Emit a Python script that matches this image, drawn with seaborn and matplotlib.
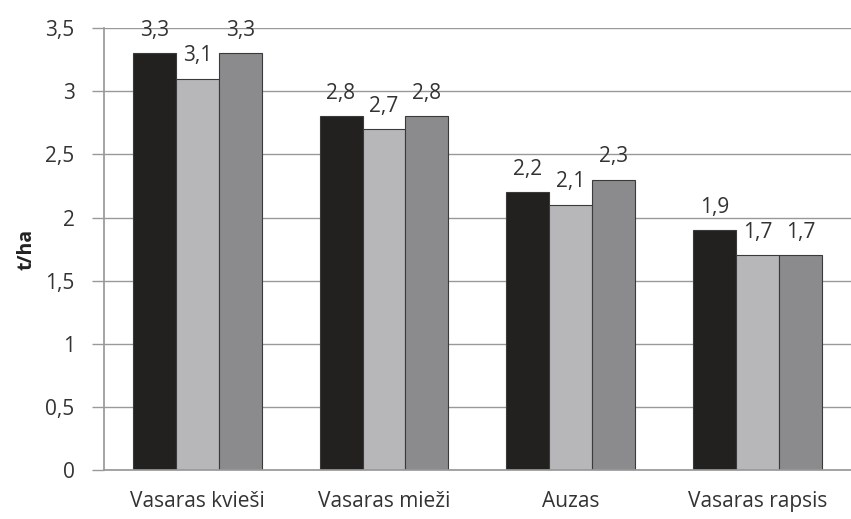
import matplotlib.pyplot as plt
import seaborn as sns
import pandas as pd

# Data
categories = ['Vasaras kvieši', 'Vasaras mieži', 'Auzas', 'Vasaras rapsis']
series = ['1', '2', '3']
values_1 = [3.3, 2.8, 2.2, 1.9]
values_2 = [3.1, 2.7, 2.1, 1.7]
values_3 = [3.3, 2.8, 2.3, 1.7]
colors = ['#231f20', '#b6b7ba', '#8a8b8e']

rows = []
for s, vals in zip(series, [values_1, values_2, values_3]):
    for c, v in zip(categories, vals):
        rows.append({'cat': c, 'series': s, 'value': v})
df = pd.DataFrame(rows)

sns.set_theme(style="white")
plt.rcParams['font.family'] = ['Open Sans', 'DejaVu Sans']

fig = plt.figure(figsize=(8.51, 5.19), dpi=100)
ax = fig.add_axes([0.122, 0.094, 0.878, 0.852])

sns.barplot(data=df, x='cat', y='value', hue='series', palette=colors,
            width=0.69, edgecolor='#3a3a3a', linewidth=0.8, ax=ax, legend=False)

for cont in ax.containers:
    labels = [f'{v:.1f}'.replace('.', ',') for v in cont.datavalues]
    ax.bar_label(cont, labels=labels, padding=9, fontsize=15, color='#333333')

ax.set_ylim(0, 3.5)
ax.set_xlim(-0.5, 3.5)
yt = [0, 0.5, 1, 1.5, 2, 2.5, 3, 3.5]
ax.set_yticks(yt)
ax.set_yticklabels([f'{t:g}'.replace('.', ',') for t in yt], fontsize=15, color='#333333')
ax.tick_params(axis='y', which='both', left=True, length=9, width=1, color='#999999', pad=12)
ax.tick_params(axis='x', bottom=False, labelsize=15, labelcolor='#333333', pad=9)
ax.yaxis.grid(True, color='#999999', linewidth=1)
ax.set_axisbelow(True)

for side in ['top', 'right']:
    ax.spines[side].set_visible(False)
ax.spines['left'].set_color('#999999')
ax.spines['bottom'].set_color('#999999')

ax.set_xlabel('')
ax.set_ylabel('t/ha', fontsize=14, fontweight='bold', color='#222222', labelpad=6)

plt.savefig('out.png', dpi=100)
